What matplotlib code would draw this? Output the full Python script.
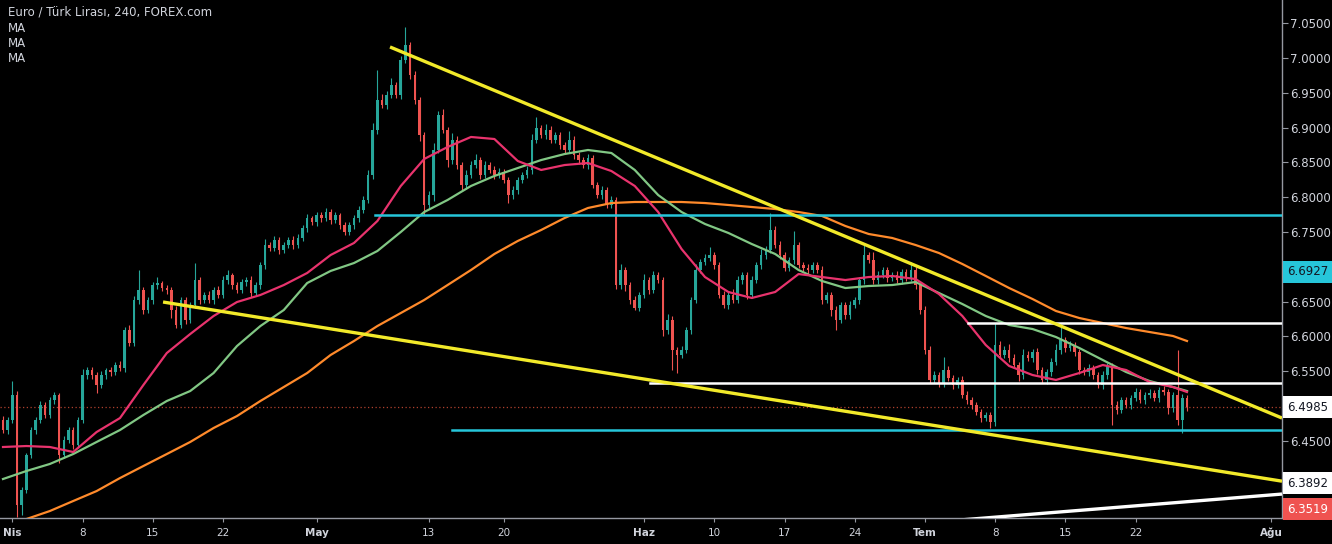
import numpy as np
import matplotlib.pyplot as plt

# 8h candles, Mar 29 - Jul 26 (closes)
closes = [
    6.4655, 6.4799, 6.5158, 6.3577, 6.3793, 6.4296, 6.4655, 6.4799, 6.5014, 6.4871,
    6.5086, 6.5158, 6.4296, 6.4511, 6.4655, 6.4440, 6.4799, 6.5445, 6.5517, 6.5445,
    6.5302, 6.5445, 6.5517, 6.5488, 6.5589, 6.5546, 6.6092, 6.5905, 6.6523, 6.6667,
    6.6379, 6.6523, 6.6738, 6.6767, 6.6695, 6.6667, 6.6379, 6.6164, 6.6523, 6.6236,
    6.6451, 6.6810, 6.6523, 6.6595, 6.6523, 6.6667, 6.6595, 6.6810, 6.6882, 6.6738,
    6.6667, 6.6781, 6.6810, 6.6623, 6.6738, 6.7026, 6.7313, 6.7270, 6.7385, 6.7241,
    6.7313, 6.7385, 6.7313, 6.7414, 6.7557, 6.7701, 6.7643, 6.7744, 6.7701, 6.7787,
    6.7672, 6.7744, 6.7600, 6.7500, 6.7600, 6.7701, 6.7816, 6.7960, 6.8319, 6.8965,
    6.9396, 6.9324, 6.9468, 6.9612, 6.9468, 6.9971, 7.0186, 6.9755, 6.9396, 6.8893,
    6.7888, 6.8031, 6.8678, 6.9181, 6.8965, 6.8534, 6.8822, 6.8462, 6.8175, 6.8319,
    6.8462, 6.8534, 6.8319, 6.8462, 6.8391, 6.8319, 6.8362, 6.8247, 6.8031, 6.8103,
    6.8247, 6.8319, 6.8391, 6.8822, 6.8994, 6.8893, 6.8965, 6.8822, 6.8893, 6.8750,
    6.8678, 6.8822, 6.8606, 6.8534, 6.8462, 6.8563, 6.8175, 6.8031, 6.8103, 6.7888,
    6.7960, 6.6738, 6.6954, 6.6738, 6.6523, 6.6408, 6.6595, 6.6810, 6.6667, 6.6882,
    6.6810, 6.6092, 6.6236, 6.5805, 6.5733, 6.5805, 6.6092, 6.6523, 6.6954, 6.7069,
    6.7126, 6.7169, 6.7026, 6.6595, 6.6451, 6.6595, 6.6523, 6.6810, 6.6882, 6.6595,
    6.6810, 6.7026, 6.7169, 6.7241, 6.7529, 6.7313, 6.7169, 6.6983, 6.7098, 6.7313,
    6.7026, 6.6983, 6.6954, 6.7026, 6.6954, 6.6523, 6.6595, 6.6379, 6.6236, 6.6451,
    6.6307, 6.6451, 6.6523, 6.6810, 6.7169, 6.7098, 6.6810, 6.6882, 6.6954, 6.6839,
    6.6882, 6.6810, 6.6925, 6.6839, 6.6954, 6.6738, 6.6379, 6.5805, 6.5374, 6.5445,
    6.5330, 6.5517, 6.5402, 6.5302, 6.5374, 6.5158, 6.5086, 6.5014, 6.4914, 6.4828,
    6.4871, 6.4770, 6.5876, 6.5733, 6.5805, 6.5690, 6.5589, 6.5445, 6.5733, 6.5690,
    6.5776, 6.5517, 6.5374, 6.5488, 6.5632, 6.5805, 6.5948, 6.5833, 6.5876, 6.5776,
    6.5517, 6.5488, 6.5546, 6.5445, 6.5302, 6.5445, 6.5575, 6.5014, 6.4943, 6.5086,
    6.5014, 6.5115, 6.5201, 6.5086, 6.5158, 6.5187, 6.5115, 6.5230, 6.5201, 6.4971,
    6.5158, 6.4799, 6.5115, 6.4985,
]
first_open = 6.4800

# wick lengths above / below the body, in 0.001 TRY
wick_up = [
    6, 5, 20, 6, 4, 3, 5, 4, 6, 5,  4, 5, 3, 6, 5, 4, 5, 8, 4, 5,
    4, 6, 3, 5, 4, 6, 5, 7, 6, 29,  4, 5, 4, 8, 3, 5, 4, 6, 5, 4,
    5, 24, 4, 5, 6, 4, 5, 6, 7, 3,  4, 5, 4, 6, 5, 4, 8, 5, 6, 4,
    5, 4, 6, 5, 4, 6, 3, 5, 4, 6,  4, 5, 3, 4, 5, 4, 6, 5, 7, 10,
    43, 8, 6, 10, 5, 6, 26, 5, 6, 4,  5, 6, 10, 6, 8, 5, 10, 6, 5, 7,
    6, 8, 5, 6, 4, 5, 6, 4, 5, 6,  5, 4, 6, 8, 16, 5, 8, 6, 5, 4,
    5, 13, 6, 4, 5, 6, 4, 5, 6, 4,  5, 4, 8, 5, 4, 6, 5, 8, 5, 6,
    5, 4, 8, 5, 4, 6, 5, 4, 8, 5,  6, 12, 5, 4, 6, 5, 8, 6, 4, 5,
    6, 5, 8, 6, 24, 5, 6, 5, 4, 20,  5, 4, 6, 5, 4, 6, 5, 4, 6, 5,
    4, 6, 5, 4, 14, 5, 12, 6, 5, 4,  5, 6, 4, 5, 12, 4, 5, 6, 5, 6,
    5, 19, 6, 5, 4, 5, 6, 4, 5, 4,  5, 4, 32, 6, 5, 8, 6, 5, 8, 6,
    5, 6, 4, 5, 6, 8, 24, 5, 6, 5,  4, 5, 6, 4, 5, 6, 5, 4, 6, 5,
    4, 5, 6, 4, 5, 6, 4, 5, 6, 4,  5, 65, 6, 5,
]
wick_dn = [
    5, 6, 4, 17, 14, 5, 4, 6, 5, 4,  5, 6, 11, 5, 4, 6, 5, 4, 6, 5,
    12, 4, 5, 6, 4, 5, 6, 4, 5, 6,  5, 4, 6, 5, 4, 6, 12, 5, 4, 6,
    5, 4, 6, 5, 4, 6, 5, 4, 5, 6,  5, 4, 6, 5, 4, 5, 6, 4, 5, 6,
    4, 5, 6, 4, 5, 6, 4, 5, 6, 4,  5, 4, 6, 5, 4, 5, 6, 4, 5, 6,
    5, 4, 6, 5, 4, 6, 5, 6, 5, 8,  14, 6, 8, 5, 4, 10, 6, 5, 8, 6,
    5, 4, 6, 5, 4, 6, 5, 4, 11, 5,  6, 5, 4, 6, 5, 4, 6, 5, 4, 6,
    5, 4, 6, 5, 4, 6, 5, 4, 6, 5,  4, 6, 5, 8, 6, 3, 5, 4, 6, 5,
    4, 8, 6, 29, 26, 5, 4, 6, 5, 4,  5, 4, 6, 5, 4, 6, 5, 4, 5, 6,
    5, 4, 6, 5, 4, 5, 6, 4, 5, 6,  5, 4, 6, 5, 4, 6, 5, 8, 14, 5,
    6, 5, 4, 6, 5, 4, 6, 5, 4, 6,  5, 4, 6, 5, 4, 6, 5, 6, 5, 4,
    6, 5, 4, 6, 5, 4, 6, 5, 4, 6,  5, 9, 6, 5, 4, 6, 5, 8, 5, 4,
    6, 5, 4, 6, 5, 4, 6, 5, 4, 6,  5, 4, 6, 5, 4, 6, 5, 29, 6, 5,
    4, 6, 5, 4, 6, 5, 4, 6, 5, 8,  5, 7, 19, 6,
]

# moving averages read every 5 candles
ma_idx = list(range(0, 251, 5)) + [253]
ma_pink = [
    6.4411, 6.4425, 6.4411, 6.4339, 6.4626, 6.4827, 6.5302, 6.5761, 6.6034, 6.6293,
    6.6494, 6.6595, 6.6738, 6.6911, 6.7169, 6.7342, 6.7658, 6.8161, 6.8549, 6.8721,
    6.8865, 6.8836, 6.8520, 6.8391, 6.8462, 6.8491, 6.8376, 6.8161, 6.7787, 6.7255,
    6.6853, 6.6638, 6.6552, 6.6638, 6.6896, 6.6853, 6.6810, 6.6853, 6.6868, 6.6824,
    6.6609, 6.6293, 6.5876, 6.5575, 6.5445, 6.5374, 6.5474, 6.5589, 6.5517, 6.5345,
    6.5273, 6.5201,
]
ma_green = [
    6.3951, 6.4066, 6.4167, 6.4310, 6.4483, 6.4655, 6.4871, 6.5072, 6.5215, 6.5474,
    6.5862, 6.6149, 6.6379, 6.6767, 6.6940, 6.7054, 6.7227, 6.7500, 6.7787, 6.7960,
    6.8161, 6.8305, 6.8419, 6.8534, 6.8620, 6.8678, 6.8635, 6.8391, 6.8031, 6.7787,
    6.7615, 6.7486, 6.7327, 6.7184, 6.6954, 6.6796, 6.6695, 6.6724, 6.6738, 6.6781,
    6.6623, 6.6465, 6.6293, 6.6164, 6.6106, 6.5991, 6.5833, 6.5661, 6.5488, 6.5359,
    6.5273, 6.5215,
]
ma_orange = [
    6.3290, 6.3376, 6.3491, 6.3635, 6.3778, 6.3965, 6.4138, 6.4310, 6.4483, 6.4684,
    6.4856, 6.5072, 6.5273, 6.5474, 6.5733, 6.5934, 6.6149, 6.6336, 6.6523, 6.6738,
    6.6954, 6.7184, 6.7371, 6.7529, 6.7701, 6.7845, 6.7916, 6.7931, 6.7931, 6.7931,
    6.7916, 6.7888, 6.7859, 6.7830, 6.7787, 6.7730, 6.7586, 6.7471, 6.7414, 6.7313,
    6.7198, 6.7040, 6.6868, 6.6695, 6.6537, 6.6365, 6.6264, 6.6192, 6.6120, 6.6063,
    6.6006, 6.5934,
]

# horizontal levels drawn on the chart
levels = [6.7744, 6.6192, 6.5330, 6.4655]
level_start = [79.5, 206.2, 138.2, 95.9]
level_colors = ['#26c6da', '#ffffff', '#ffffff', '#26c6da']

# trend lines (candle index, price)
trend_x = [[82.7, 273.3], [34.2, 273.3], [205.0, 273.3]]
trend_y = [[7.0158, 6.4827], [6.6494, 6.3920], [6.3365, 6.3735]]
trend_colors = ['#f2ea2a', '#f2ea2a', '#ffffff']

tick_pos = [2, 17, 32, 47, 67, 91, 107, 137, 152, 167, 182, 197, 212, 227, 242, 271]
tick_labels = ['Nis', '8', '15', '22', 'May', '13', '20', 'Haz', '10', '17', '24',
               'Tem', '8', '15', '22', 'Ağu']

price_tags = [6.6927, 6.4985, 6.3892, 6.3519]
tag_bg = ['#26c6da', '#ffffff', '#ffffff', '#ef5350']
tag_fg = ['#131722', '#131722', '#131722', '#ffffff']
last_price = 6.4985

bg = '#000000'
txt = '#d1d4dc'

fig = plt.figure(figsize=(13.32, 5.44), dpi=100, facecolor=bg)
ax = fig.add_axes([0, 26 / 544, 1282 / 1332, 518 / 544], facecolor=bg)

c = np.array(closes)
o = np.r_[first_open, c[:-1]]
hi = np.maximum(o, c) + np.array(wick_up) / 1000
lo = np.minimum(o, c) - np.array(wick_dn) / 1000
x = np.arange(len(c))
col = np.where(c >= o, '#26a69a', '#ef5350')

ax.vlines(x, lo, hi, colors=col, lw=0.8, zorder=3)
ax.bar(x, np.maximum(np.abs(c - o), 0.0008), bottom=np.minimum(o, c), width=0.55,
       color=col, lw=0, zorder=3)

ax.plot(ma_idx, ma_orange, color='#ff8a2b', lw=1.6, zorder=4)
ax.plot(ma_idx, ma_green, color='#81c784', lw=1.6, zorder=4)
ax.plot(ma_idx, ma_pink, color='#e8336d', lw=1.6, zorder=4)

xmax = 273.3
for lv, st, cl in zip(levels, level_start, level_colors):
    ax.plot([st, xmax], [lv, lv], color=cl, lw=1.8, zorder=5)

for tx, ty, cl in zip(trend_x, trend_y, trend_colors):
    ax.plot(tx, ty, color=cl, lw=2.4, zorder=5, solid_capstyle='butt')

ax.axhline(last_price, color='#b0402e', lw=0.9, ls=(0, (1, 2)), zorder=2)

ax.set_xlim(-0.64, xmax)
ax.set_ylim(6.3391, 7.0833)

# price scale; the labels hidden behind the price tags are left blank
yt = np.round(np.arange(6.40, 7.0501, 0.05), 2)
hidden = [6.40, 6.50, 6.70]
ax.yaxis.tick_right()
ax.set_yticks(yt)
ax.set_yticklabels(['' if v in hidden else f'{v:.4f}' for v in yt])
ax.tick_params(axis='y', colors='#9598a1', labelcolor=txt, labelsize=8.5,
               length=4, width=0.8, pad=2)
ax.set_xticks(tick_pos)
ax.set_xticklabels(tick_labels)
ax.tick_params(axis='x', colors='#9598a1', labelcolor=txt, labelsize=7.5,
               length=3, width=0.8, pad=4)
for lab in ax.get_xticklabels():
    if not lab.get_text().isdigit():
        lab.set_fontweight('bold')

for sp in ['top', 'left']:
    ax.spines[sp].set_visible(False)
for sp in ['right', 'bottom']:
    ax.spines[sp].set_color('#9598a1')
    ax.spines[sp].set_linewidth(1.0)

for p, b, f in zip(price_tags, tag_bg, tag_fg):
    ax.annotate(f'{p:.4f}', xy=(1, p), xycoords=('axes fraction', 'data'),
                xytext=(4, 0), textcoords='offset points', va='center', ha='left',
                fontsize=8.5, color=f, zorder=10, annotation_clip=False,
                bbox=dict(boxstyle='square,pad=0.35', fc=b, ec='none'))

fig.text(8 / 1332, 1 - 12 / 544, 'Euro / Türk Lirası, 240, FOREX.com', color=txt,
         fontsize=8.5, va='center', ha='left')
for i in range(3):
    fig.text(8 / 1332, 1 - (28 + 15.5 * i) / 544, 'MA', color=txt, fontsize=8.5,
             va='center', ha='left')

fig.savefig('out.png', dpi=100, facecolor=bg)
